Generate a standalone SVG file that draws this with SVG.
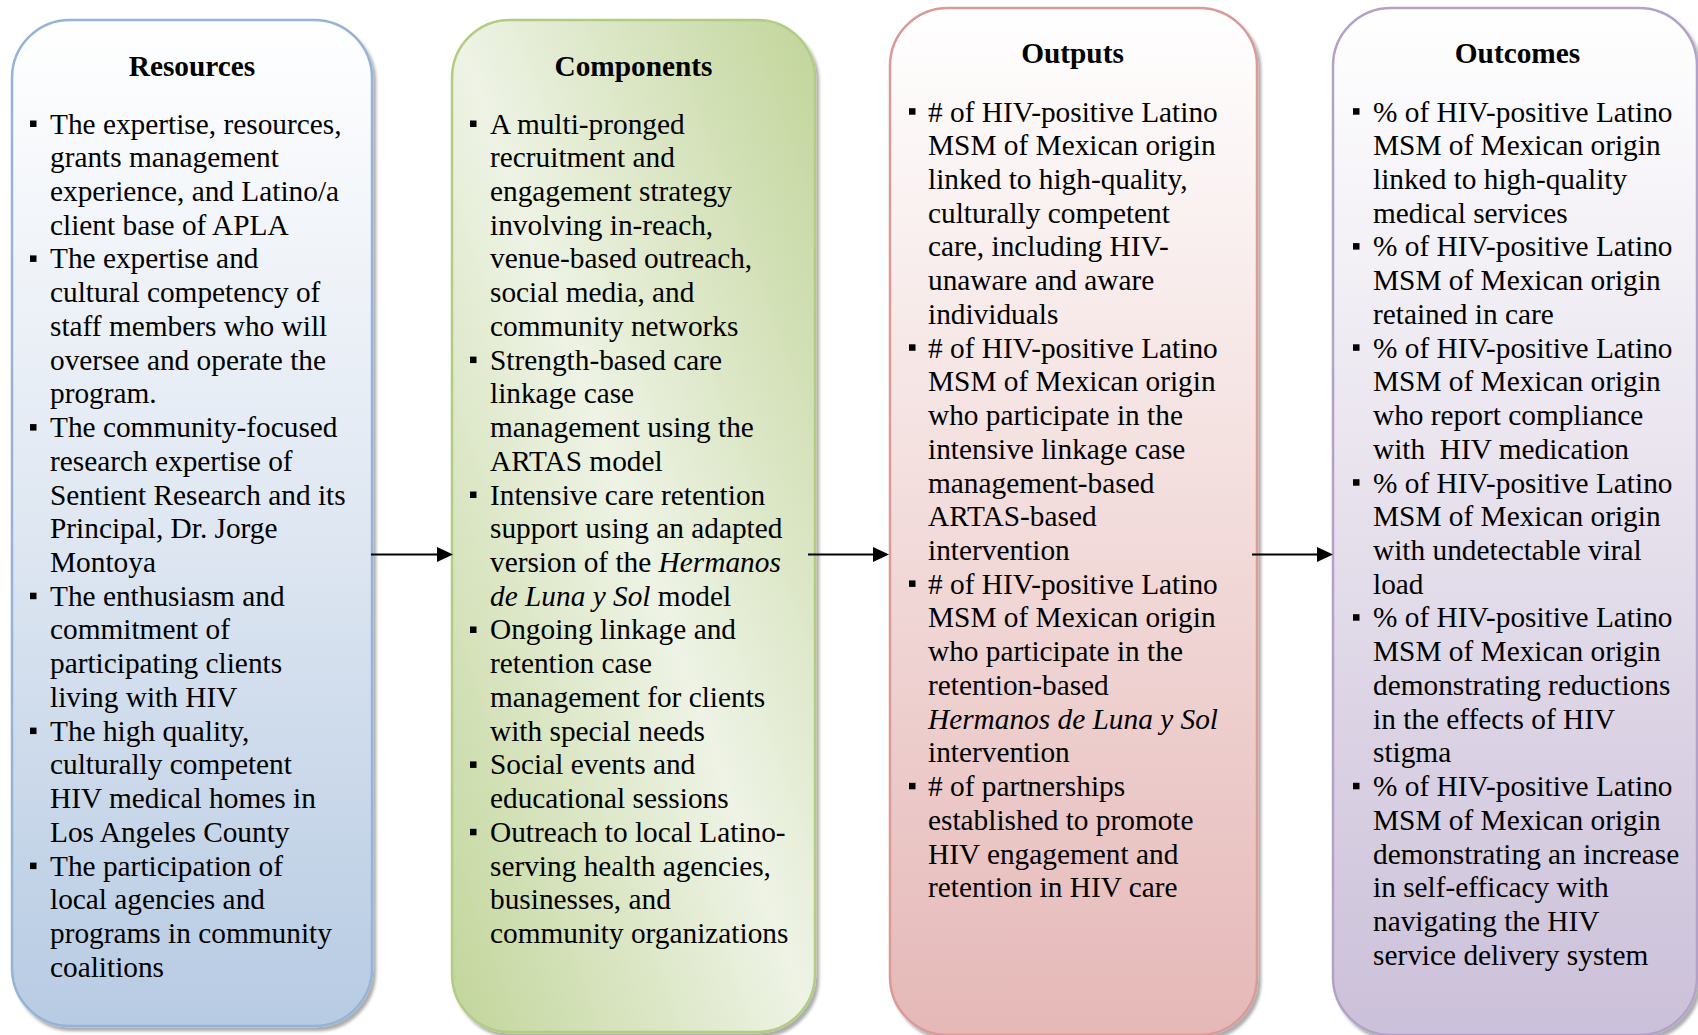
<svg xmlns="http://www.w3.org/2000/svg" xmlns:xlink="http://www.w3.org/1999/xlink" width="1698" height="1035" viewBox="0 0 1698 1035">
<style>
.box{stroke-width:2.5}
.ttl{font-family:"Liberation Serif","Times New Roman",serif;font-size:29.33px;font-weight:bold;fill:#000;text-anchor:middle}
.bd{font-family:"Liberation Serif","Times New Roman",serif;font-size:29.33px;fill:#000}
.it{font-style:italic}
.conn{stroke:#000;stroke-width:2;fill:none}
</style>
<defs>
<filter id="sh" x="-5%" y="-5%" width="115%" height="115%">
<feDropShadow dx="3" dy="4" stdDeviation="1.5" flood-color="#000" flood-opacity="0.32"/>
</filter>
<linearGradient id="gBlue" x1="0" y1="0" x2="0" y2="1">
<stop offset="0" stop-color="#ffffff"/>
<stop offset="0.5" stop-color="#dfe7f2"/>
<stop offset="1" stop-color="#b7cbe3"/>
</linearGradient>
<linearGradient id="gGreen" x1="1" y1="0" x2="0" y2="1">
<stop offset="0" stop-color="#c2d59a"/>
<stop offset="0.5" stop-color="#eef3e5"/>
<stop offset="1" stop-color="#c2d59a"/>
</linearGradient>
<linearGradient id="gRed" x1="0" y1="0" x2="0" y2="1">
<stop offset="0" stop-color="#ffffff"/>
<stop offset="0.5" stop-color="#f2dcdb"/>
<stop offset="1" stop-color="#e5b8b7"/>
</linearGradient>
<linearGradient id="gPurple" x1="0" y1="0" x2="0" y2="1">
<stop offset="0" stop-color="#ffffff"/>
<stop offset="0.5" stop-color="#e6e0ec"/>
<stop offset="1" stop-color="#cbc0d9"/>
</linearGradient>
<rect id="bl" width="6.5" height="6.5" fill="#000"/>
<marker id="ah" viewBox="0 0 16 15" refX="8" refY="7.5" markerWidth="16" markerHeight="15" markerUnits="userSpaceOnUse" orient="auto">
<path d="M0,0 L16,7.5 L0,15 z" fill="#000"/>
</marker>
</defs>

<g id="resources">
<rect class="box" x="12" y="20" width="360" height="1006" rx="58" ry="58" fill="url(#gBlue)" stroke="#95b3d7" filter="url(#sh)"/>
<text class="ttl" x="192" y="76">Resources</text>
<use href="#bl" x="30" y="120.5"/>
<use href="#bl" x="30" y="255.4"/>
<use href="#bl" x="30" y="424.1"/>
<use href="#bl" x="30" y="592.7"/>
<use href="#bl" x="30" y="727.6"/>
<use href="#bl" x="30" y="862.6"/>
<text class="bd" x="50" y="133.5"><tspan x="50" dy="0">The expertise, resources,</tspan><tspan x="50" dy="33.73">grants management</tspan><tspan x="50" dy="33.73">experience, and Latino/a</tspan><tspan x="50" dy="33.73">client base of APLA</tspan><tspan x="50" dy="33.73">The expertise and</tspan><tspan x="50" dy="33.73">cultural competency of</tspan><tspan x="50" dy="33.73">staff members who will</tspan><tspan x="50" dy="33.73">oversee and operate the</tspan><tspan x="50" dy="33.73">program.</tspan><tspan x="50" dy="33.73">The community-focused</tspan><tspan x="50" dy="33.73">research expertise of</tspan><tspan x="50" dy="33.73">Sentient Research and its</tspan><tspan x="50" dy="33.73">Principal, Dr. Jorge</tspan><tspan x="50" dy="33.73">Montoya</tspan><tspan x="50" dy="33.73">The enthusiasm and</tspan><tspan x="50" dy="33.73">commitment of</tspan><tspan x="50" dy="33.73">participating clients</tspan><tspan x="50" dy="33.73">living with HIV</tspan><tspan x="50" dy="33.73">The high quality,</tspan><tspan x="50" dy="33.73">culturally competent</tspan><tspan x="50" dy="33.73">HIV medical homes in</tspan><tspan x="50" dy="33.73">Los Angeles County</tspan><tspan x="50" dy="33.73">The participation of</tspan><tspan x="50" dy="33.73">local agencies and</tspan><tspan x="50" dy="33.73">programs in community</tspan><tspan x="50" dy="33.73">coalitions</tspan></text>
</g>

<g id="components">
<rect class="box" x="452" y="20" width="363" height="1012" rx="58" ry="58" fill="url(#gGreen)" stroke="#b3cb83" filter="url(#sh)"/>
<text class="ttl" x="633.5" y="76">Components</text>
<use href="#bl" x="470" y="120.5"/>
<use href="#bl" x="470" y="356.6"/>
<use href="#bl" x="470" y="491.5"/>
<use href="#bl" x="470" y="626.5"/>
<use href="#bl" x="470" y="761.4"/>
<use href="#bl" x="470" y="828.8"/>
<text class="bd" x="490" y="133.5"><tspan x="490" dy="0">A multi-pronged</tspan><tspan x="490" dy="33.73">recruitment and</tspan><tspan x="490" dy="33.73">engagement strategy</tspan><tspan x="490" dy="33.73">involving in-reach,</tspan><tspan x="490" dy="33.73">venue-based outreach,</tspan><tspan x="490" dy="33.73">social media, and</tspan><tspan x="490" dy="33.73">community networks</tspan><tspan x="490" dy="33.73">Strength-based care</tspan><tspan x="490" dy="33.73">linkage case</tspan><tspan x="490" dy="33.73">management using the</tspan><tspan x="490" dy="33.73">ARTAS model</tspan><tspan x="490" dy="33.73">Intensive care retention</tspan><tspan x="490" dy="33.73">support using an adapted</tspan><tspan x="490" dy="33.73">version of the <tspan class="it">Hermanos</tspan></tspan><tspan x="490" dy="33.73"><tspan class="it">de Luna y Sol</tspan> model</tspan><tspan x="490" dy="33.73">Ongoing linkage and</tspan><tspan x="490" dy="33.73">retention case</tspan><tspan x="490" dy="33.73">management for clients</tspan><tspan x="490" dy="33.73">with special needs</tspan><tspan x="490" dy="33.73">Social events and</tspan><tspan x="490" dy="33.73">educational sessions</tspan><tspan x="490" dy="33.73">Outreach to local Latino-</tspan><tspan x="490" dy="33.73">serving health agencies,</tspan><tspan x="490" dy="33.73">businesses, and</tspan><tspan x="490" dy="33.73">community organizations</tspan></text>
</g>

<g id="outputs">
<rect class="box" x="890" y="8" width="367" height="1027" rx="58" ry="58" fill="url(#gRed)" stroke="#d99a98" filter="url(#sh)"/>
<text class="ttl" x="1072.5" y="63">Outputs</text>
<use href="#bl" x="909" y="108.2"/>
<use href="#bl" x="909" y="344.3"/>
<use href="#bl" x="909" y="580.4"/>
<use href="#bl" x="909" y="782.8"/>
<text class="bd" x="928" y="121.5"><tspan x="928" dy="0"># of HIV-positive Latino</tspan><tspan x="928" dy="33.73">MSM of Mexican origin</tspan><tspan x="928" dy="33.73">linked to high-quality,</tspan><tspan x="928" dy="33.73">culturally competent</tspan><tspan x="928" dy="33.73">care, including HIV-</tspan><tspan x="928" dy="33.73">unaware and aware</tspan><tspan x="928" dy="33.73">individuals</tspan><tspan x="928" dy="33.73"># of HIV-positive Latino</tspan><tspan x="928" dy="33.73">MSM of Mexican origin</tspan><tspan x="928" dy="33.73">who participate in the</tspan><tspan x="928" dy="33.73">intensive linkage case</tspan><tspan x="928" dy="33.73">management-based</tspan><tspan x="928" dy="33.73">ARTAS-based</tspan><tspan x="928" dy="33.73">intervention</tspan><tspan x="928" dy="33.73"># of HIV-positive Latino</tspan><tspan x="928" dy="33.73">MSM of Mexican origin</tspan><tspan x="928" dy="33.73">who participate in the</tspan><tspan x="928" dy="33.73">retention-based</tspan><tspan x="928" dy="33.73" class="it">Hermanos de Luna y Sol</tspan><tspan x="928" dy="33.73">intervention</tspan><tspan x="928" dy="33.73"># of partnerships</tspan><tspan x="928" dy="33.73">established to promote</tspan><tspan x="928" dy="33.73">HIV engagement and</tspan><tspan x="928" dy="33.73">retention in HIV care</tspan></text>
</g>

<g id="outcomes">
<rect class="box" x="1333" y="8" width="364" height="1027" rx="58" ry="58" fill="url(#gPurple)" stroke="#b3a2c7" filter="url(#sh)"/>
<text class="ttl" x="1517.5" y="63">Outcomes</text>
<use href="#bl" x="1353" y="108.2"/>
<use href="#bl" x="1353" y="243.1"/>
<use href="#bl" x="1353" y="344.3"/>
<use href="#bl" x="1353" y="479.2"/>
<use href="#bl" x="1353" y="614.2"/>
<use href="#bl" x="1353" y="782.8"/>
<text class="bd" x="1373" y="121.5" xml:space="preserve"><tspan x="1373" dy="0">% of HIV-positive Latino</tspan><tspan x="1373" dy="33.73">MSM of Mexican origin</tspan><tspan x="1373" dy="33.73">linked to high-quality</tspan><tspan x="1373" dy="33.73">medical services</tspan><tspan x="1373" dy="33.73">% of HIV-positive Latino</tspan><tspan x="1373" dy="33.73">MSM of Mexican origin</tspan><tspan x="1373" dy="33.73">retained in care</tspan><tspan x="1373" dy="33.73">% of HIV-positive Latino</tspan><tspan x="1373" dy="33.73">MSM of Mexican origin</tspan><tspan x="1373" dy="33.73">who report compliance</tspan><tspan x="1373" dy="33.73">with  HIV medication</tspan><tspan x="1373" dy="33.73">% of HIV-positive Latino</tspan><tspan x="1373" dy="33.73">MSM of Mexican origin</tspan><tspan x="1373" dy="33.73">with undetectable viral</tspan><tspan x="1373" dy="33.73">load</tspan><tspan x="1373" dy="33.73">% of HIV-positive Latino</tspan><tspan x="1373" dy="33.73">MSM of Mexican origin</tspan><tspan x="1373" dy="33.73">demonstrating reductions</tspan><tspan x="1373" dy="33.73">in the effects of HIV</tspan><tspan x="1373" dy="33.73">stigma</tspan><tspan x="1373" dy="33.73">% of HIV-positive Latino</tspan><tspan x="1373" dy="33.73">MSM of Mexican origin</tspan><tspan x="1373" dy="33.73">demonstrating an increase</tspan><tspan x="1373" dy="33.73">in self-efficacy with</tspan><tspan x="1373" dy="33.73">navigating the HIV</tspan><tspan x="1373" dy="33.73">service delivery system</tspan></text>
</g>

<g id="connectors">
<path class="conn" d="M371,554.5 H445" marker-end="url(#ah)"/>
<path class="conn" d="M808,554.5 H881" marker-end="url(#ah)"/>
<path class="conn" d="M1252,554.5 H1325" marker-end="url(#ah)"/>
</g>
</svg>
